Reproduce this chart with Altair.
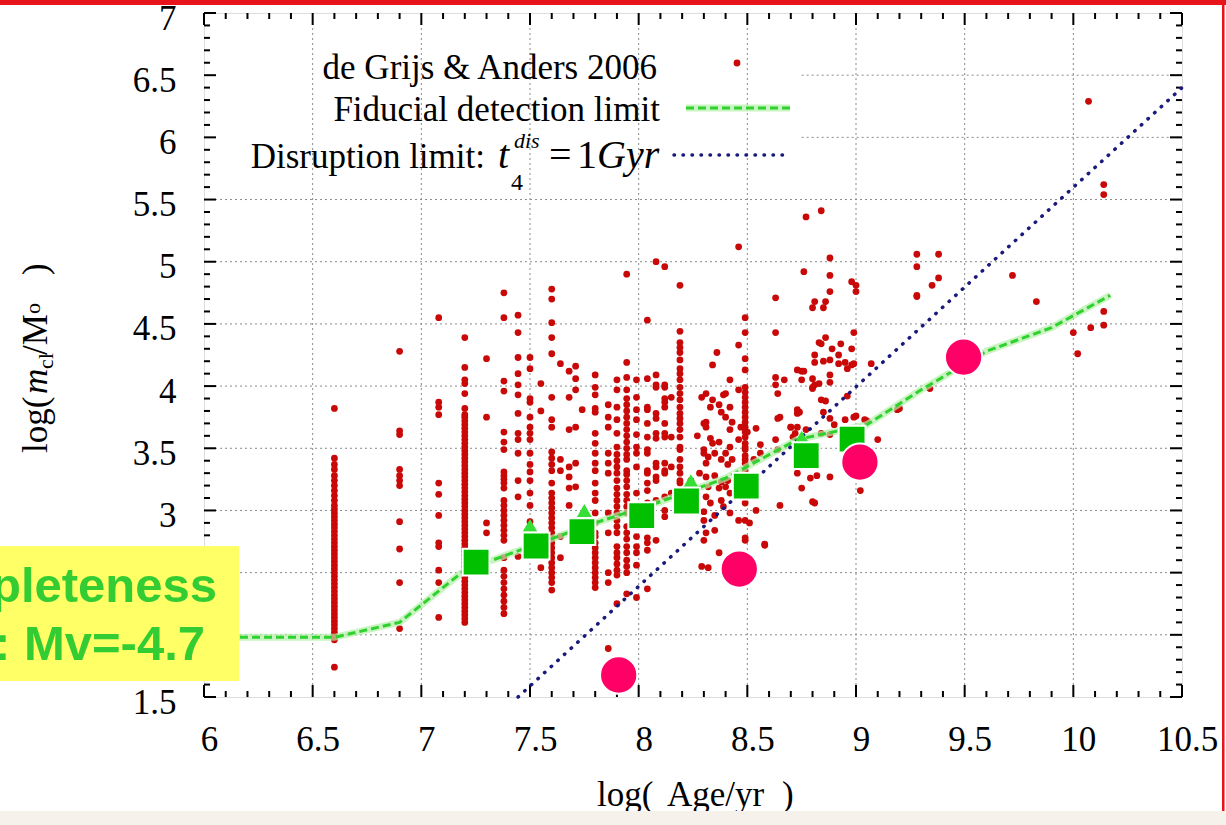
import altair as alt
import pandas as pd
import numpy as np

# ---------------- layout (page pixels) ----------------
W, H = 978, 684          # plot area
X0, Y0 = 204, 13         # page position of plot area's top-left

# ---------------- axis ticks / labels ----------------
x_major = [6, 6.5, 7, 7.5, 8, 8.5, 9, 9.5, 10, 10.5]
y_major = [1.5, 2, 2.5, 3, 3.5, 4, 4.5, 5, 5.5, 6, 6.5, 7]
y_hidden_labels = [2, 2.5]   # covered by the yellow note in the reference
x_grid = [6.5, 7, 7.5, 8, 8.5, 9, 9.5, 10]
y_grid_full = [2, 2.5, 3, 3.5, 4, 4.5, 5, 5.5]
y_grid_part = [6, 6.5]

# ---------------- de Grijs & Anders 2006 clusters ----------------
col_ages = [6.60, 6.90, 7.08, 7.20, 7.30, 7.38, 7.445, 7.50, 7.55, 7.60, 7.80, 7.86,
            7.90, 7.945, 7.99, 8.04, 8.08, 8.12, 8.15, 8.19, 8.46, 8.49]
col_masses = [
    [1.74, 1.96, 1.99, 2.02, 2.05, 2.08, 2.11, 2.14, 2.17, 2.20, 2.23, 2.26, 2.29, 2.32, 2.35,
     2.38, 2.41, 2.44, 2.47, 2.50, 2.53, 2.56, 2.59, 2.62, 2.65, 2.68, 2.71, 2.74, 2.77, 2.80,
     2.83, 2.86, 2.89, 2.92, 2.95, 2.98, 3.01, 3.04, 3.08, 3.12, 3.16, 3.20, 3.24, 3.28, 3.33,
     3.37, 3.42, 3.82],
    [2.05, 2.42, 2.69, 2.91, 3.20, 3.24, 3.28, 3.33, 3.61, 3.64, 4.28],
    [2.14, 2.42, 2.52, 2.71, 2.74, 2.96, 3.13, 3.22, 3.77, 3.83, 3.87, 4.55],
    [2.10, 2.13, 2.16, 2.19, 2.22, 2.25, 2.28, 2.31, 2.34, 2.37, 2.40, 2.43, 2.46, 2.49, 2.52,
     2.55, 2.58, 2.61, 2.64, 2.67, 2.70, 2.73, 2.76, 2.79, 2.82, 2.85, 2.88, 2.91, 2.94, 2.97,
     3.00, 3.03, 3.06, 3.09, 3.12, 3.15, 3.18, 3.21, 3.24, 3.27, 3.30, 3.33, 3.36, 3.39, 3.42,
     3.45, 3.48, 3.51, 3.54, 3.57, 3.60, 3.63, 3.66, 3.69, 3.72, 3.75, 3.77, 3.82, 3.94, 4.02,
     4.05, 4.15, 4.39],
    [2.82, 2.90, 3.75, 4.22],
    [2.17, 2.22, 2.27, 2.32, 2.37, 2.42, 2.47, 2.52, 2.62, 2.76, 2.80, 2.84, 2.88, 2.92, 2.96,
     3.00, 3.04, 3.08, 3.18, 3.22, 3.25, 3.28, 3.31, 3.49, 3.55, 3.63, 3.96, 4.04, 4.55, 4.75],
    [2.63, 3.11, 3.24, 3.46, 3.57, 3.62, 3.78, 3.93, 4.01, 4.10, 4.23, 4.43, 4.57],
    [2.91, 3.04, 3.14, 3.24, 3.31, 3.37, 3.46, 3.57, 3.62, 3.67, 3.75, 3.87, 3.90, 4.14, 4.23],
    [2.54, 3.80, 4.02],
    [2.36, 2.42, 2.46, 2.50, 2.54, 2.58, 2.62, 2.66, 2.70, 2.74, 2.78, 2.82, 2.86, 2.90, 2.94,
     2.98, 3.02, 3.06, 3.10, 3.14, 3.22, 3.32, 3.37, 3.42, 3.47, 3.67, 3.73, 3.91, 4.26, 4.39,
     4.51, 4.70, 4.78],
    [2.38, 2.42, 2.46, 2.50, 2.54, 2.58, 2.62, 2.66, 2.70, 2.74, 2.79, 2.82, 2.90, 2.98, 3.08,
     3.14, 3.22, 3.32, 3.38, 3.46, 3.54, 3.62, 3.79, 3.82, 3.93, 3.99, 4.09],
    [1.89, 2.42, 2.50, 2.82, 2.98, 3.30, 3.38, 3.46, 3.67, 3.75, 3.85],
    [2.25, 2.48, 2.52, 2.57, 2.62, 2.66, 2.71, 2.82, 2.87, 2.92, 2.98, 3.03, 3.08, 3.13, 3.18,
     3.24, 3.30, 3.35, 3.40, 3.45, 3.51, 3.62, 3.73, 3.83, 3.97, 4.05],
    [2.33, 2.50, 2.55, 2.60, 2.66, 2.71, 2.77, 2.82, 2.87, 2.98, 3.03, 3.08, 3.13, 3.19, 3.24,
     3.29, 3.32, 3.41, 3.45, 3.50, 3.55, 3.60, 3.65, 3.70, 3.75, 3.80, 3.85, 3.90, 3.97, 4.07,
     4.19, 4.90],
    [2.30, 2.56, 2.66, 2.71, 2.79, 3.14, 3.35, 3.46, 3.51, 3.61, 3.73, 3.81, 3.91, 4.05],
    [2.37, 2.68, 2.74, 2.78, 3.06, 3.16, 3.22, 3.30, 3.32, 3.46, 3.49, 3.59, 3.70, 3.81, 3.83,
     4.06, 4.53],
    [2.76, 3.08, 3.24, 3.27, 3.35, 3.38, 3.58, 3.62, 3.74, 3.78, 3.99, 4.01, 4.09, 5.00],
    [2.95, 3.00, 3.11, 3.30, 3.32, 3.38, 3.59, 3.62, 3.70, 3.83, 3.87, 3.90, 3.99, 4.01, 4.96],
    [3.14, 3.35, 3.59, 3.91],
    [3.22, 3.24, 3.30, 3.35, 3.41, 3.49, 3.51, 3.59, 3.65, 3.70, 3.74, 3.78, 3.83, 3.89, 3.94,
     3.99, 4.05, 4.10, 4.14, 4.21, 4.27, 4.31, 4.35, 4.44, 4.81],
    [2.92, 3.57, 3.97, 4.33, 5.12],
    [2.76, 2.78, 2.92, 3.06, 3.32, 3.38, 3.41, 3.44, 3.49, 3.51, 3.54, 3.59, 3.63, 3.67, 3.71,
     3.75, 3.79, 3.83, 3.87, 3.91, 3.95, 3.99, 4.13, 4.22, 4.43, 4.55],
]
scatter_age = [
    7.64, 7.64, 7.64, 7.64, 7.64, 7.68, 7.68, 7.68, 7.68, 7.68, 7.68, 7.68, 7.71, 7.71, 7.71,
    7.71, 7.71, 7.71, 7.74, 8.24,
    8.29, 8.30, 8.30, 8.31, 8.30, 8.31, 8.29, 8.31, 8.31, 8.31, 8.31, 8.32, 8.31, 8.30, 8.30,
    8.32, 8.30, 8.32, 8.33, 8.33, 8.33, 8.34, 8.34, 8.35, 8.35, 8.35, 8.35, 8.36, 8.34, 8.37,
    8.37, 8.37, 8.37, 8.38, 8.38, 8.38, 8.38, 8.39, 8.39, 8.40, 8.40, 8.40, 8.40, 8.41, 8.43,
    8.43, 8.42, 8.42, 8.42, 8.42, 8.41, 8.42, 8.42, 8.27, 8.28, 8.27,
    8.54, 8.54, 8.53, 8.56, 8.56, 8.51, 8.58, 8.58, 8.47, 8.50, 8.63, 8.63, 8.63, 8.67, 8.63,
    8.64, 8.64, 8.63, 8.64, 8.65, 8.65, 8.70, 8.72, 8.73, 8.73, 8.75, 8.75, 8.77, 8.80, 8.81,
    8.80, 8.81, 8.80, 8.76, 8.77, 8.84, 8.88, 8.88, 8.88, 8.81, 8.86, 8.80, 8.85, 8.99, 8.86,
    8.83, 8.84, 8.98, 8.93, 8.89, 8.81, 8.81, 8.85, 8.88, 8.92, 8.92, 8.96, 8.99, 9.07, 8.76,
    8.80, 8.83, 8.88, 8.88, 8.84, 8.86, 8.96, 8.73, 8.74, 8.85, 8.70, 8.73, 8.88, 8.90, 8.95,
    9.00, 9.05, 8.71, 8.84, 8.88, 9.10, 9.20, 8.73, 8.79, 8.82, 8.88, 8.75, 8.81, 9.02, 8.98,
    9.00, 9.00, 8.98, 8.95, 8.99, 9.04,
    9.28, 9.38, 9.28, 9.38, 9.35, 9.28, 9.28, 9.72, 9.83, 10.14, 10.14, 10.08, 10.00, 10.02,
    10.14, 10.14, 10.07, 9.34, 9.19,
]
scatter_mass = [
    4.18, 3.41, 3.32, 2.79, 2.62, 4.12, 3.91, 3.65, 3.35, 3.27, 3.18, 3.04, 4.16, 4.06, 3.97,
    3.67, 3.38, 3.19, 3.81, 3.24,
    3.91, 3.70, 3.49, 3.38, 2.92, 2.82, 2.55, 3.94, 3.71, 3.67, 3.27, 3.19, 3.11, 2.99, 2.76,
    2.54, 3.46, 3.43, 3.83, 3.58, 3.06, 3.89, 3.54, 3.46, 3.28, 2.96, 2.84, 4.27, 4.17, 3.85,
    3.55, 3.18, 2.66, 3.79, 3.41, 3.23, 3.08, 3.93, 3.03, 3.94, 3.75, 3.46, 3.19, 3.37, 3.71,
    3.41, 4.05, 3.83, 3.65, 3.51, 3.24, 3.14, 2.98, 3.60, 3.30, 3.05,
    3.00, 3.66, 3.41, 3.53, 3.46, 2.90, 2.73, 2.72, 3.67, 3.63, 4.71, 4.43, 4.07, 4.05, 4.01,
    3.94, 3.74, 3.57, 3.49, 3.04, 3.75, 3.67, 3.62, 3.78, 4.13, 4.05, 4.12, 3.65, 4.06, 4.01,
    3.98, 3.37, 3.07, 4.92, 5.36, 5.41, 5.03, 4.89, 4.76, 4.68, 4.68, 4.63, 4.63, 4.43, 4.39,
    4.35, 4.34, 4.30, 4.34, 4.30, 4.25, 4.19, 4.20, 4.21, 4.25, 4.18, 4.14, 4.18, 4.18, 4.12,
    3.99, 4.02, 4.09, 4.03, 3.89, 3.88, 3.92, 3.81, 3.79, 3.79, 3.67, 3.67, 3.74, 3.69, 3.73,
    3.76, 3.72, 3.59, 3.62, 3.61, 3.57, 3.82, 3.30, 3.26, 3.28, 3.27, 3.18, 3.06, 3.16, 4.84,
    4.81, 4.76, 4.17, 4.19, 3.75, 3.73,
    5.06, 5.06, 4.96, 4.87, 4.81, 4.73, 4.72, 4.89, 4.68, 4.60, 4.49, 4.47, 4.43, 4.26,
    5.62, 5.54, 6.29, 3.98, 3.81,
]

# ---------------- other series ----------------
fid_age = [6.0, 6.6, 6.9, 7.2, 7.5, 7.8, 8.1, 8.4, 8.73, 9.05, 9.3, 9.6, 9.9, 10.17]
fid_mass = [1.98, 1.98, 2.10, 2.52, 2.71, 2.90, 3.07, 3.26, 3.57, 3.69, 3.97, 4.28, 4.47, 4.73]
dis_age = [7.445, 10.5]
dis_mass = [1.5, 6.40]
sq_age = [7.252, 7.528, 7.739, 8.014, 8.220, 8.495, 8.771, 8.982]
sq_mass = [2.585, 2.714, 2.830, 2.959, 3.076, 3.196, 3.441, 3.574]
tri_age = [7.50, 7.75, 8.24, 8.75]
tri_mass = [2.88, 3.00, 3.24, 3.59]
circ_age = [7.908, 8.463, 9.018, 9.495]
circ_mass = [1.677, 2.529, 3.389, 4.233]

# ---------------- frames ----------------
rows_a, rows_m = [], []
for a, ms in zip(col_ages, col_masses):
    rows_a += [a] * len(ms)
    rows_m += ms
rows_a += scatter_age
rows_m += scatter_mass
red_df = pd.DataFrame({"age": rows_a, "mass": rows_m})

xs = alt.Scale(domain=[6, 10.5], nice=False, zero=False)
ys = alt.Scale(domain=[1.5, 7], nice=False, zero=False)
SERIF = "Liberation Serif"
one = pd.DataFrame({"a": [0]})

hide_expr = " || ".join(f"datum.value == {v}" for v in y_hidden_labels)
AX = alt.Axis(values=x_major, format="~g", labelFont=SERIF, labelFontSize=35, labelColor="black",
              labelPadding=25, labelOffset=5, ticks=False, domain=False, grid=False, title=None,
              labelFlush=False, labelOverlap=False)
AY = alt.Axis(values=y_major, format="~g", labelFont=SERIF, labelFontSize=35, labelColor="black",
              labelPadding=28, labelOffset=5, ticks=False, domain=False, grid=False, title=None,
              labelFlush=False, labelOverlap=False,
              labelExpr=f"({hide_expr}) ? '' : datum.label")


def X(field="age"):
    return alt.X(f"{field}:Q", scale=xs, axis=AX)


def Y(field="mass"):
    return alt.Y(f"{field}:Q", scale=ys, axis=AY)


# grid
grid_style = dict(color="#8a8a8a", strokeDash=[2, 3], strokeWidth=1)
vgrid = alt.Chart(pd.DataFrame({"age": x_grid})).mark_rule(**grid_style).encode(x=X())
hgrid = alt.Chart(pd.DataFrame({"mass": y_grid_full})).mark_rule(**grid_style).encode(y=Y())
hgrid2 = alt.Chart(pd.DataFrame({"mass": y_grid_part, "age": [8.75, 8.75]})).mark_rule(**grid_style).encode(
    y=Y(), x=X(), x2=alt.value(W))

# ticks (inward, on all four sides)
minor = [round(v, 1) for v in np.arange(6.0, 10.51, 0.1) if abs(v * 2 - round(v * 2)) > 1e-6]
minor_y = [round(v, 1) for v in np.arange(1.5, 7.01, 0.1) if abs(v * 2 - round(v * 2)) > 1e-6]
tick_layers = []
for vals_x, vals_y, L in [(x_major, y_major, 12), (minor, minor_y, 6)]:
    dfx = pd.DataFrame({"age": vals_x})
    dfy = pd.DataFrame({"mass": vals_y})
    tick_layers += [
        alt.Chart(dfx).mark_rule(color="black", strokeWidth=2).encode(x=X(), y=alt.value(H), y2=alt.value(H - L)),
        alt.Chart(dfx).mark_rule(color="black", strokeWidth=2).encode(x=X(), y=alt.value(0), y2=alt.value(L)),
        alt.Chart(dfy).mark_rule(color="black", strokeWidth=2).encode(y=Y(), x=alt.value(0), x2=alt.value(L)),
        alt.Chart(dfy).mark_rule(color="black", strokeWidth=2).encode(y=Y(), x=alt.value(W), x2=alt.value(W - L)),
    ]

red = alt.Chart(red_df).mark_circle(color="#c90808", opacity=1, size=46).encode(x=X(), y=Y())

fid_df = pd.DataFrame({"age": fid_age, "mass": fid_mass})
fid_glow = alt.Chart(fid_df).mark_line(color="#b4f0a8", strokeWidth=7, opacity=0.7).encode(x=X(), y=Y())
fid = alt.Chart(fid_df).mark_line(color="#2fd12f", strokeWidth=3, strokeDash=[8, 4]).encode(x=X(), y=Y())
dis = alt.Chart(pd.DataFrame({"age": dis_age, "mass": dis_mass})).mark_line(
    color="#1a1a7a", strokeWidth=3.5, strokeDash=[0.5, 8.5], strokeCap="round").encode(x=X(), y=Y())

tri = alt.Chart(pd.DataFrame({"age": tri_age, "mass": tri_mass})).mark_point(
    shape="triangle-up", filled=True, color="#33e033", size=220, opacity=1).encode(x=X(), y=Y())
sq = alt.Chart(pd.DataFrame({"age": sq_age, "mass": sq_mass})).mark_point(
    shape="square", filled=True, fill="#00c000", stroke="white", strokeWidth=2, size=720, opacity=1).encode(x=X(), y=Y())
circ = alt.Chart(pd.DataFrame({"age": circ_age, "mass": circ_mass})).mark_point(
    shape="circle", filled=True, fill="#ff0066", stroke="white", strokeWidth=2, size=1390, opacity=1).encode(x=X(), y=Y())


def rect(x1, x2, y1, y2, color):
    return alt.Chart(one).mark_rect(color=color).encode(
        x=alt.value(x1 - X0), x2=alt.value(x2 - X0), y=alt.value(y1 - Y0), y2=alt.value(y2 - Y0))


def txt(s, x, y, size, font=SERIF, style="normal", weight="normal", align="left", color="black", angle=None):
    kw = dict(text=s, fontSize=size, font=font, fontStyle=style, fontWeight=weight, align=align,
              baseline="alphabetic", color=color)
    if angle is not None:
        kw["angle"] = angle
    return alt.Chart(one).mark_text(**kw).encode(x=alt.value(x - X0), y=alt.value(y - Y0))


def seg(x1, x2, y, **style):
    return alt.Chart(one).mark_rule(**style).encode(
        x=alt.value(x1 - X0), x2=alt.value(x2 - X0), y=alt.value(y - Y0))


legend = [
    txt("de Grijs & Anders 2006", 657, 79, 35, align="right"),
    txt("Fiducial detection limit", 660, 121, 35, align="right"),
    txt("Disruption limit:", 485, 168, 35, align="right"),
    txt("t", 498, 168, 40, style="italic"),
    txt("dis", 514, 148, 22, style="italic"),
    txt("4", 511, 190, 24),
    txt("=", 549, 168, 40),
    txt("1", 577, 168, 40),
    txt("Gyr", 597, 168, 40, style="italic"),
    alt.Chart(one).mark_circle(color="#c90808", size=46, opacity=1).encode(
        x=alt.value(737 - X0), y=alt.value(63 - Y0)),
    seg(686, 790, 108, color="#b4f0a8", strokeWidth=7, opacity=0.7),
    seg(686, 790, 108, color="#2fd12f", strokeWidth=3, strokeDash=[8, 4]),
    seg(674, 791, 155, color="#1a1a7a", strokeWidth=3.5, strokeDash=[0.5, 8.5], strokeCap="round"),
]

titles = [
    txt("log(", 597, 806, 35),
    txt("Age/yr", 667, 806, 35),
    txt(")", 782, 806, 35),
    txt("log(", 47, 453, 35, angle=270),
    txt("m", 47, 394, 35, style="italic", angle=270),
    txt("cl", 53, 369, 22, angle=270),
    txt("/M", 47, 355, 35, angle=270),
    txt("o", 40, 314, 22, angle=270),
    txt(")", 47, 275, 35, angle=270),
]

deco = [
    rect(0, 239, 546, 681, "#ffff66"),
    txt("Completeness", 217, 602, 49, font="Liberation Sans", weight="bold", align="right", color="#33cc33"),
    txt("limit: Mv=-4.7", 205, 660, 49, font="Liberation Sans", weight="bold", align="right", color="#33cc33"),
    rect(0, 1226, 811, 825, "#f6f1eb"),
    rect(0, 1226, 0, 5, "#e8141c"),
    rect(1222, 1224.5, 0, 811, "#e8141c"),
]

chart = alt.layer(
    vgrid, hgrid, hgrid2, red, *tick_layers, fid_glow, fid, dis, tri, sq, circ, *legend, *titles, *deco
).properties(
    width=W, height=H,
    padding={"left": X0, "top": Y0, "right": 1226 - X0 - W, "bottom": 825 - Y0 - H},
    autosize=alt.AutoSizeParams(type="none"),
).configure_view(stroke="black", strokeWidth=3).configure(background="white")

chart.save("out.html", embed_options={"renderer": "svg", "actions": False})
